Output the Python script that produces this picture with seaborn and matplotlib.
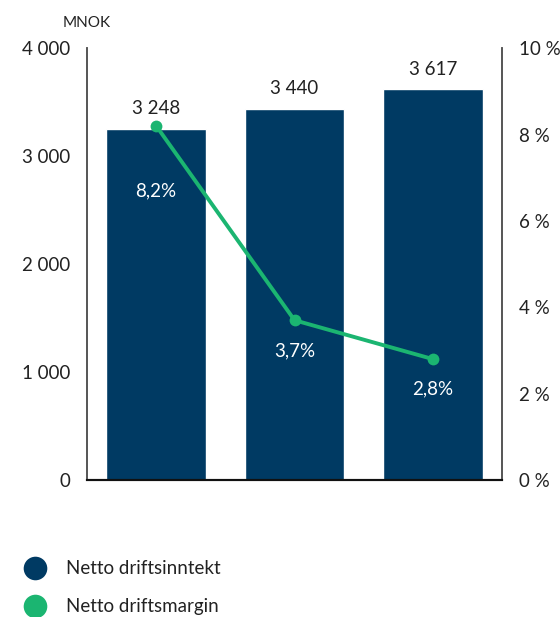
import matplotlib
matplotlib.use("Agg")
import matplotlib.pyplot as plt
from matplotlib.lines import Line2D
from matplotlib.ticker import FuncFormatter
import pandas as pd
import seaborn as sns

# Data
periods = ["Periode 1", "Periode 2", "Periode 3"]
income = [3248, 3440, 3617]          # Netto driftsinntekt (MNOK)
margin = [8.2, 3.7, 2.8]             # Netto driftsmargin (%)
margin_label_drop = [1.5, 0.72, 0.68]  # how far below the point the % label sits
left_ticks = [0, 1000, 2000, 3000, 4000]
right_ticks = [0, 2, 4, 6, 8, 10]

navy = "#003A63"
green = "#1BB571"
txt = "#222222"

sns.set_theme(style="white")
plt.rcParams["font.family"] = ["Lato", "DejaVu Sans"]

df = pd.DataFrame({"periode": periods, "inntekt": income, "margin": margin})
df["pos"] = range(len(df))

fig = plt.figure(figsize=(5.6, 6.17), dpi=100)
ax = fig.add_axes([0.1554, 0.222, 0.741, 0.700])

sns.barplot(data=df, x="periode", y="inntekt", color=navy, width=0.72,
            saturation=1, ax=ax)
ax.set_xlim(-0.5, 2.5)
ax.set_ylim(0, 4000)
ax.set_yticks(left_ticks)
ax.yaxis.set_major_formatter(FuncFormatter(lambda v, p: f"{int(v):,}".replace(",", " ")))
ax.tick_params(axis="y", length=0, pad=12, labelsize=13.5, labelcolor=txt)
ax.set_xticks([])
ax.set_xlabel("")
ax.set_ylabel("")
ax.text(0.0, 1.058, "MNOK", fontsize=11, color=txt, ha="center", va="center",
        transform=ax.transAxes)

for i, v in enumerate(income):
    ax.text(i, v + 110, f"{v:,}".replace(",", " "), ha="center", va="bottom",
            fontsize=13.5, color=txt)

ax2 = ax.twinx()
sns.lineplot(data=df, x="pos", y="margin", color=green, linewidth=2.8,
             marker="o", markersize=8.5, markeredgewidth=0, ax=ax2)
ax2.set_ylim(0, 10)
ax2.set_xlim(-0.5, 2.5)
ax2.set_yticks(right_ticks)
ax2.yaxis.set_major_formatter(FuncFormatter(lambda v, p: f"{int(v)} %"))
ax2.tick_params(axis="y", length=0, pad=12, labelsize=13.5, labelcolor=txt)
ax2.set_xlabel("")
ax2.set_ylabel("")

for i, m in enumerate(margin):
    ax2.text(i, m - margin_label_drop[i], f"{m:.1f}%".replace(".", ","),
             ha="center", va="center", fontsize=13.5, color="white")

for a in (ax, ax2):
    a.spines["top"].set_visible(False)
    a.spines["left"].set_color("#555555")
    a.spines["right"].set_color("#555555")
    a.spines["bottom"].set_color("#111111")
    a.spines["left"].set_linewidth(1.2)
    a.spines["right"].set_linewidth(1.2)
    a.spines["bottom"].set_linewidth(1.5)

handles = [
    Line2D([], [], marker="o", linestyle="", markersize=17, color=navy, markeredgewidth=0),
    Line2D([], [], marker="o", linestyle="", markersize=17, color=green, markeredgewidth=0),
]
fig.legend(handles, ["Netto driftsinntekt", "Netto driftsmargin"],
           loc="upper left", bbox_to_anchor=(-0.002, 0.119), frameon=False,
           fontsize=13.5, labelspacing=1.1, handletextpad=0.7,
           labelcolor=txt)

fig.savefig("out.png", dpi=100)
